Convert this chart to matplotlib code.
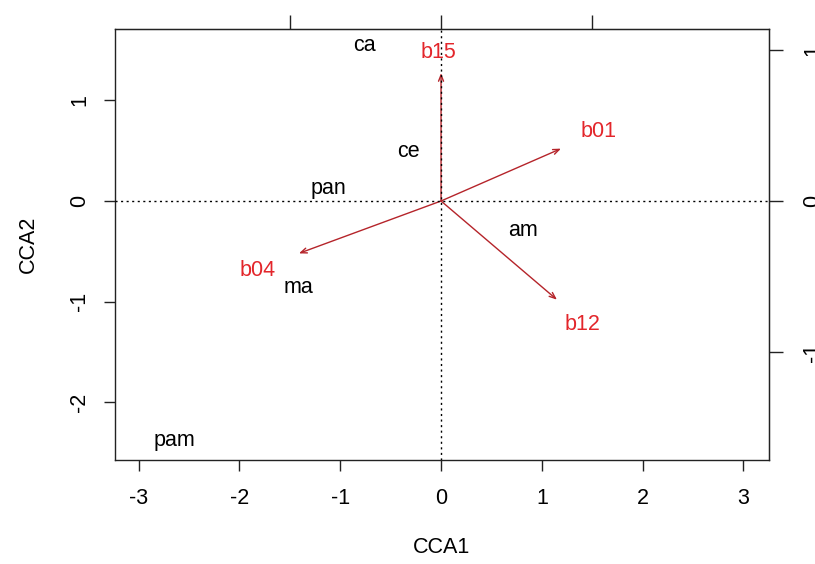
import matplotlib
matplotlib.use("Agg")
import matplotlib.pyplot as plt

# --- data ---
site_names = ["ca", "ce", "pan", "am", "ma", "pam"]
site_x = [-0.76, -0.32, -1.12, 0.81, -1.41, -2.65]
site_y = [1.54, 0.49, 0.12, -0.29, -0.86, -2.38]

env_names = ["b15", "b01", "b12", "b04"]
env_x = [0.0, 1.19, 1.15, -1.41]
env_y = [1.27, 0.52, -0.98, -0.52]
env_label_x = [-0.03, 1.56, 1.40, -1.82]
env_label_y = [1.47, 0.69, -1.23, -0.69]

x_ticks = [-3, -2, -1, 0, 1, 2, 3]
y_ticks = [-2, -1, 0, 1]
sec_ticks = [-1, 0, 1]
sec_scale = 1.5
x_label = "CCA1"
y_label = "CCA2"

plt.rcParams['font.family'] = ['Liberation Sans', 'DejaVu Sans']
FS = 15.5
text_red = "#e3262b"
arrow_red = "#b5242a"

fig = plt.figure(figsize=(8.15, 5.64), dpi=100)
ax = fig.add_axes([115/815, 1-460/564, (769-115)/815, (460-29)/564])
ax.set_xlim(-3.235, 3.254)
ax.set_ylim(-2.572, 1.708)

ax.axhline(0, color="black", ls=(0, (1.5, 2.5)), lw=1.0, zorder=3)
ax.axvline(0, color="black", ls=(0, (1.5, 2.5)), lw=1.0, zorder=3)

for n, x, y in zip(site_names, site_x, site_y):
    ax.text(x, y, n, ha="center", va="center", fontsize=FS, color="black")

for n, x, y, lx, ly in zip(env_names, env_x, env_y, env_label_x, env_label_y):
    ax.annotate("", xy=(x, y), xytext=(0, 0),
                arrowprops=dict(arrowstyle="->,head_length=0.45,head_width=0.18",
                                color=arrow_red, lw=1.0, shrinkA=0, shrinkB=0),
                zorder=2)
    ax.text(lx, ly, n, ha="center", va="center", fontsize=FS, color=text_red)

for s in ax.spines.values():
    s.set_linewidth(1.0)
    s.set_color("#222222")

ax.set_xticks(x_ticks)
ax.set_xticklabels([str(t) for t in x_ticks])
ax.set_yticks(y_ticks)
ax.set_yticklabels([str(t) for t in y_ticks], rotation=90, va="center")
ax.tick_params(axis="both", length=8, width=1.0, labelsize=FS, color="#222222")
ax.tick_params(axis="x", pad=12)
ax.tick_params(axis="y", pad=10)
ax.set_xlabel(x_label, fontsize=FS, labelpad=20)
ax.set_ylabel(y_label, fontsize=FS, labelpad=22)

sec_x = ax.secondary_xaxis("top", functions=(lambda v: v / sec_scale, lambda v: v * sec_scale))
sec_x.set_xticks(sec_ticks)
sec_x.tick_params(length=10, width=1.0, labeltop=False, color="#222222")

sec_y = ax.secondary_yaxis("right", functions=(lambda v: v / sec_scale, lambda v: v * sec_scale))
sec_y.set_yticks(sec_ticks)
sec_y.set_yticklabels([str(t) for t in sec_ticks], rotation=90, va="center")
sec_y.tick_params(length=10, width=1.0, labelsize=FS, pad=14, color="#222222")

fig.savefig("out.png", dpi=100)
